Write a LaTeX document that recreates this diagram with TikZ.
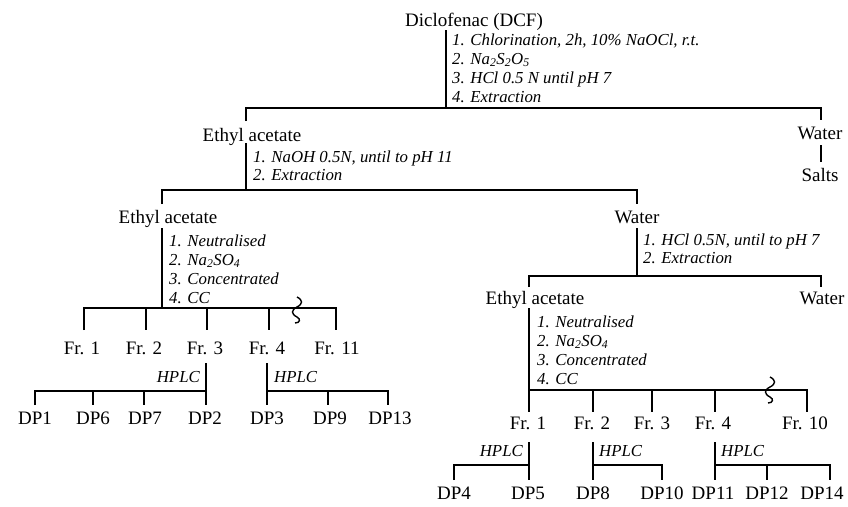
\documentclass[tikz,border=0pt]{standalone}
\usepackage{fontspec}
\setmainfont{Liberation Serif}
\begin{document}
\begin{tikzpicture}[x=1pt,y=-1pt,
  lab/.style={font=\fontsize{19}{19}\selectfont, inner sep=0pt, anchor=base},
  stp/.style={font=\fontsize{16.8}{19}\selectfont\itshape, inner sep=0pt, anchor=base west},
  stpr/.style={stp, anchor=base east},
  ln/.style={line width=1.6pt},
  squig/.style={line width=1.4pt},
  ]
\useasboundingbox (0,0) rectangle (848,506);

% ---------- labels ----------
\node[lab] (dcf) at (474,26) {Diclofenac (DCF)};
\node[lab] (ea1) at (252,141.5) {Ethyl acetate};
\node[lab] (w1) at (820,139.5) {Water};
\node[lab] (salts) at (820,181.5) {Salts};
\node[lab] (ea2) at (168,223.5) {Ethyl acetate};
\node[lab] (w2) at (637,223.5) {Water};
\node[lab] (ea3) at (535,304.5) {Ethyl acetate};
\node[lab] (w3) at (822,304.5) {Water};

\node[lab] (lf1) at (82,354.5) {Fr. 1};
\node[lab] (lf2) at (144,354.5) {Fr. 2};
\node[lab] (lf3) at (205,354.5) {Fr. 3};
\node[lab] (lf4) at (267,354.5) {Fr. 4};
\node[lab] (lf11) at (337,354.5) {Fr. 11};

\node[lab] (dp1) at (35,424.5) {DP1};
\node[lab] (dp6) at (93,424.5) {DP6};
\node[lab] (dp7) at (145,424.5) {DP7};
\node[lab] (dp2) at (205,424.5) {DP2};
\node[lab] (dp3) at (267,424.5) {DP3};
\node[lab] (dp9) at (330,424.5) {DP9};
\node[lab] (dp13) at (390,424.5) {DP13};

\node[lab] (rf1) at (528,429.5) {Fr. 1};
\node[lab] (rf2) at (592,429.5) {Fr. 2};
\node[lab] (rf3) at (652,429.5) {Fr. 3};
\node[lab] (rf4) at (713,429.5) {Fr. 4};
\node[lab] (rf10) at (805,429.5) {Fr. 10};

\node[lab] (dp4) at (454,499.5) {DP4};
\node[lab] (dp5) at (528,499.5) {DP5};
\node[lab] (dp8) at (593,499.5) {DP8};
\node[lab] (dp10) at (662,499.5) {DP10};
\node[lab] (dp11) at (713,499.5) {DP11};
\node[lab] (dp12) at (767,499.5) {DP12};
\node[lab] (dp14) at (822,499.5) {DP14};

% ---------- step texts ----------
\node[stp] (s1a) at (452,45) {1. Chlorination, 2h, 10\% NaOCl, r.t.};
\node[stp] (s1b) at (452,64) {2. Na\textsubscript{2}S\textsubscript{2}O\textsubscript{5}};
\node[stp] (s1c) at (452,83) {3. HCl 0.5 N until pH 7};
\node[stp] (s1d) at (452,102) {4. Extraction};

\node[stp] (s2a) at (253,162) {1. NaOH 0.5N, until to pH 11};
\node[stp] (s2b) at (253,180) {2. Extraction};

\node[stp] (s3a) at (169,246) {1. Neutralised};
\node[stp] (s3b) at (169,265) {2. Na\textsubscript{2}SO\textsubscript{4}};
\node[stp] (s3c) at (169,284) {3. Concentrated};
\node[stp] (s3d) at (169,303) {4. CC};

\node[stp] (s4a) at (643,245) {1. HCl 0.5N, until to pH 7};
\node[stp] (s4b) at (643,263) {2. Extraction};

\node[stp] (s5a) at (537,327) {1. Neutralised};
\node[stp] (s5b) at (537,346) {2. Na\textsubscript{2}SO\textsubscript{4}};
\node[stp] (s5c) at (537,365) {3. Concentrated};
\node[stp] (s5d) at (537,384) {4. CC};

\node[stpr] (h1) at (200,382.5) {HPLC};
\node[stp] (h2) at (274,382.5) {HPLC};
\node[stpr] (h3) at (523,456.5) {HPLC};
\node[stp] (h4) at (599,456.5) {HPLC};
\node[stp] (h5) at (721,456.5) {HPLC};

% ---------- junction coordinates ----------
\coordinate (t0) at (446,30);
\coordinate (t1) at (446,108);
\coordinate (t1l) at (246,108);
\coordinate (t1r) at (821,108);

\coordinate (a0) at (246,143);
\coordinate (a1) at (246,190);
\coordinate (a1l) at (162,190);
\coordinate (a1r) at (637,190);

\coordinate (b0) at (637,228);
\coordinate (b1) at (637,276);
\coordinate (b1l) at (529,276);
\coordinate (b1r) at (821,276);

\coordinate (c0) at (162,228);
\coordinate (c1) at (162,308);
\coordinate (cl) at (84,308);
\coordinate (cr) at (336,308);

\coordinate (d0) at (529,308);
\coordinate (d1) at (529,390);
\coordinate (dr) at (807,390);

% ---------- connectors ----------
\draw[ln] (t0) -- (t1);
\draw[ln] (t1l |- 0,121) -- (t1l) -- (t1r) -- (t1r |- 0,120);
\draw[ln] (821,145) -- (821,162);

\draw[ln] (a0) -- (a1);
\draw[ln] (a1l |- 0,204) -- (a1l) -- (a1r) -- (a1r |- 0,204);

\draw[ln] (b0) -- (b1);
\draw[ln] (b1l |- 0,287) -- (b1l) -- (b1r) -- (b1r |- 0,287);

% left fraction bar
\draw[ln] (c0) -- (c1);
\draw[ln] (84,330) -- (cl) -- (cr) -- (336,330);
\draw[ln] (146,308) -- (146,330);
\draw[ln] (207,308) -- (207,330);
\draw[ln] (269,308) -- (269,330);
\draw[squig,fill=none] (297,297) .. controls (303,300) and (303,304) .. (297,307)
   .. controls (291,310) and (291,314) .. (297,317) .. controls (301,319) and (300,323) .. (295,323);

% right fraction bar
\draw[ln] (d0) -- (529,412);
\draw[ln] (d1) -- (dr) -- (807,412);
\draw[ln] (593,390) -- (593,412);
\draw[ln] (652,390) -- (652,412);
\draw[ln] (715,390) -- (715,412);
\draw[squig] (770,377) .. controls (776,380) and (776,384) .. (770,387)
   .. controls (764,390) and (764,394) .. (770,397) .. controls (774,399) and (773,403) .. (768,403);

% left HPLC groups
\draw[ln] (206,363) -- (206,405);
\draw[ln] (35,405) -- (35,391) -- (206,391);
\draw[ln] (93,391) -- (93,405);
\draw[ln] (144,391) -- (144,405);

\draw[ln] (267,363) -- (267,405);
\draw[ln] (267,391) -- (388,391) -- (388,405);
\draw[ln] (328,391) -- (328,405);

% right HPLC groups
\draw[ln] (529,442) -- (529,480);
\draw[ln] (454,480) -- (454,465) -- (529,465);

\draw[ln] (593,442) -- (593,480);
\draw[ln] (593,465) -- (662,465) -- (662,480);

\draw[ln] (715,442) -- (715,480);
\draw[ln] (715,465) -- (830,465) -- (830,480);
\draw[ln] (767,465) -- (767,480);
\end{tikzpicture}
\end{document}
